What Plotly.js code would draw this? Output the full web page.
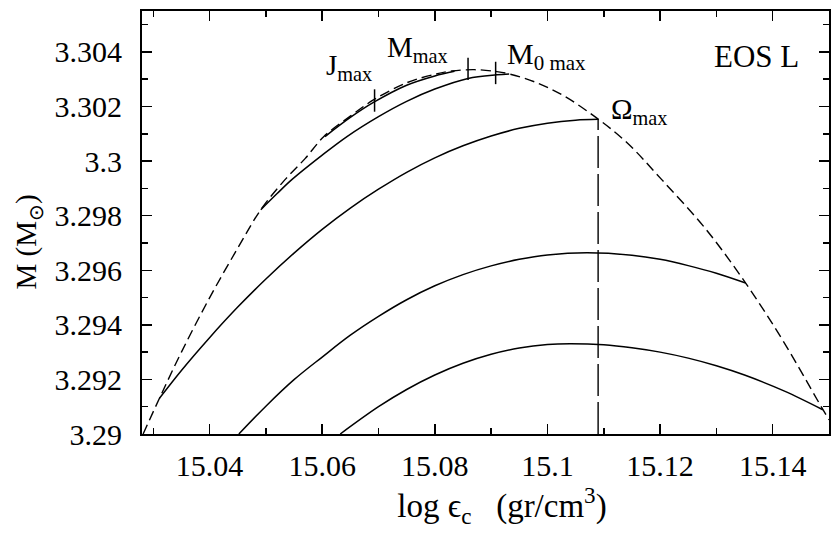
<!DOCTYPE html>
<html>
<head>
<meta charset="utf-8">
<script src="https://cdn.plot.ly/plotly-3.0.1.min.js"></script>
<style>html,body{margin:0;padding:0;background:#fff;}#chart{width:832px;height:539px;}</style>
</head>
<body>
<div id="chart"></div>
<script>
// Mass-shedding envelope (dashed)
const envX = [15.0282, 15.0311, 15.0350, 15.0400, 15.0450, 15.0491, 15.0534, 15.0570, 15.0603, 15.0650, 15.0691, 15.0750, 15.0800, 15.0830, 15.0870, 15.0910, 15.0933, 15.0980, 15.1030, 15.1086, 15.1140, 15.1203, 15.1280, 15.1352, 15.1420, 15.1489, 15.1500];
const envY = [3.29000, 3.29131, 3.29300, 3.29499, 3.29681, 3.29822, 3.29932, 3.30010, 3.30090, 3.30165, 3.30224, 3.30287, 3.30318, 3.30330, 3.30335, 3.30328, 3.30319, 3.30288, 3.30238, 3.30160, 3.30070, 3.29932, 3.29754, 3.29553, 3.29336, 3.29090, 3.29052];
// Solid sequence ending at Omega_max
const seq1X = [15.0311, 15.035, 15.040, 15.045, 15.050, 15.055, 15.060, 15.065, 15.070, 15.075, 15.080, 15.085, 15.090, 15.095, 15.100, 15.105, 15.109];
const seq1Y = [3.29131, 3.29233, 3.29353, 3.29465, 3.29568, 3.29663, 3.29750, 3.29828, 3.29897, 3.29959, 3.30012, 3.30056, 3.30092, 3.30120, 3.30139, 3.30150, 3.30153];
// Solid sequence ending at M0_max
const seq2X = [15.0491, 15.0520, 15.0546, 15.0600, 15.0644, 15.0700, 15.0750, 15.0800, 15.0859, 15.0910, 15.0932];
const seq2Y = [3.29822, 3.29881, 3.29932, 3.30022, 3.30090, 3.30163, 3.30219, 3.30264, 3.30303, 3.30316, 3.30319];
// Solid sequence running just below the envelope
const seq3X = [15.0605, 15.0650, 15.0691, 15.0750, 15.0800, 15.0835];
const seq3Y = [3.30090, 3.30160, 3.30215, 3.30278, 3.30312, 3.30329];
// Middle sequence
const seq4X = [15.0452, 15.050, 15.055, 15.060, 15.065, 15.070, 15.075, 15.080, 15.085, 15.090, 15.095, 15.100, 15.107, 15.115, 15.120, 15.125, 15.130, 15.1352];
const seq4Y = [3.29000, 3.29102, 3.29199, 3.29282, 3.29362, 3.29431, 3.29492, 3.29543, 3.29584, 3.29616, 3.29640, 3.29656, 3.29664, 3.29655, 3.29640, 3.29617, 3.29589, 3.29553];
// Lowest sequence
const seq5X = [15.0632, 15.070, 15.075, 15.080, 15.085, 15.090, 15.095, 15.100, 15.104, 15.110, 15.115, 15.120, 15.125, 15.130, 15.135, 15.142, 15.1489];
const seq5Y = [3.29000, 3.29100, 3.29163, 3.29216, 3.29259, 3.29292, 3.29315, 3.29328, 3.29331, 3.29327, 3.29316, 3.29300, 3.29278, 3.29250, 3.29216, 3.29158, 3.29089];
// Omega_max vertical line
const omegaX = [15.109, 15.109];
const omegaY = [3.29000, 3.30153];
// Extremum tick marks: J_max, M_max, M0_max
const markNames = ["J_max", "M_max", "M0_max"];
const markX = [15.0693, 15.0859, 15.0908];
const markY = [3.30222, 3.30338, 3.30323];
// Axis ticks
const xTickVals = [15.04, 15.06, 15.08, 15.10, 15.12, 15.14];
const xTickText = ["15.04", "15.06", "15.08", "15.1", "15.12", "15.14"];
const yTickVals = [3.290, 3.292, 3.294, 3.296, 3.298, 3.300, 3.302, 3.304];
const yTickText = ["3.29", "3.292", "3.294", "3.296", "3.298", "3.3", "3.302", "3.304"];

const FONT = "Liberation Serif";
const solid = {color: "#000", width: 1.5, shape: "spline"};
const traces = [
  {x: envX, y: envY, mode: "lines", line: {color: "#000", width: 1.4, dash: "10px,5px", shape: "spline"}},
  {x: seq1X, y: seq1Y, mode: "lines", line: solid},
  {x: seq2X, y: seq2Y, mode: "lines", line: solid},
  {x: seq3X, y: seq3Y, mode: "lines", line: solid},
  {x: seq4X, y: seq4Y, mode: "lines", line: solid},
  {x: seq5X, y: seq5Y, mode: "lines", line: solid},
  {x: omegaX, y: omegaY, mode: "lines", line: {color: "#000", width: 1.4, dash: "32px,6px"}},
  {x: markX, y: markY, text: markNames, mode: "markers", marker: {symbol: "line-ns-open", size: 16, color: "#000", line: {color: "#000", width: 1.5}}}
];

function axisBase() {
  return {
    showgrid: false, zeroline: false, showline: true, linecolor: "#000", linewidth: 2,
    mirror: "ticks", ticks: "inside", ticklen: 10, tickwidth: 1.5, tickcolor: "#000",
    tickfont: {family: FONT, size: 30, color: "#000"}
  };
}
const layout = {
  width: 832, height: 539,
  margin: {l: 142, r: 3, t: 11, b: 105},
  paper_bgcolor: "#fff", plot_bgcolor: "#fff",
  showlegend: false,
  font: {family: FONT, size: 30, color: "#000"},
  xaxis: Object.assign(axisBase(), {
    range: [15.028, 15.15], tickmode: "array", tickvals: xTickVals, ticktext: xTickText,
    minor: {dtick: 0.01, tick0: 15.0, ticks: "inside", ticklen: 6, tickwidth: 1.5, tickcolor: "#000"},
    ticklabelstandoff: 4,
    title: {text: "&nbsp;&nbsp;&nbsp;&nbsp;log ϵ<sub>c</sub>&nbsp;&nbsp;&nbsp;(gr/cm<sup>3</sup>)", font: {family: FONT, size: 33, color: "#000"}, standoff: 6}
  }),
  yaxis: Object.assign(axisBase(), {
    range: [3.29, 3.3055], tickmode: "array", tickvals: yTickVals, ticktext: yTickText,
    minor: {dtick: 0.001, tick0: 3.29, ticks: "inside", ticklen: 6, tickwidth: 1.5, tickcolor: "#000"},
    ticklabelstandoff: 12
  }),
  annotations: [
    {text: "M (M<sub>⊙</sub>)", textangle: -90, x: -0.166, y: 0.455, xref: "paper", yref: "paper", xanchor: "center", yanchor: "middle", showarrow: false, font: {family: FONT, size: 29, color: "#000"}},
    {text: "EOS L", x: 15.145, y: 3.30385, xref: "x", yref: "y", xanchor: "right", yanchor: "middle", showarrow: false, font: {family: FONT, size: 31, color: "#000"}},
    {text: "J<sub>max</sub>", x: 15.0604, y: 3.30345, xref: "x", yref: "y", xanchor: "left", yanchor: "middle", showarrow: false, font: {family: FONT, size: 29, color: "#000"}},
    {text: "M<sub>max</sub>", x: 15.0712, y: 3.30412, xref: "x", yref: "y", xanchor: "left", yanchor: "middle", showarrow: false, font: {family: FONT, size: 29, color: "#000"}},
    {text: "M<sub>0 max</sub>", x: 15.0925, y: 3.30385, xref: "x", yref: "y", xanchor: "left", yanchor: "middle", showarrow: false, font: {family: FONT, size: 30, color: "#000"}},
    {text: "Ω<sub>max</sub>", x: 15.1110, y: 3.30185, xref: "x", yref: "y", xanchor: "left", yanchor: "middle", showarrow: false, font: {family: FONT, size: 29, color: "#000"}}
  ]
};
Plotly.newPlot("chart", traces, layout, {staticPlot: true, displayModeBar: false});
</script>
</body>
</html>
